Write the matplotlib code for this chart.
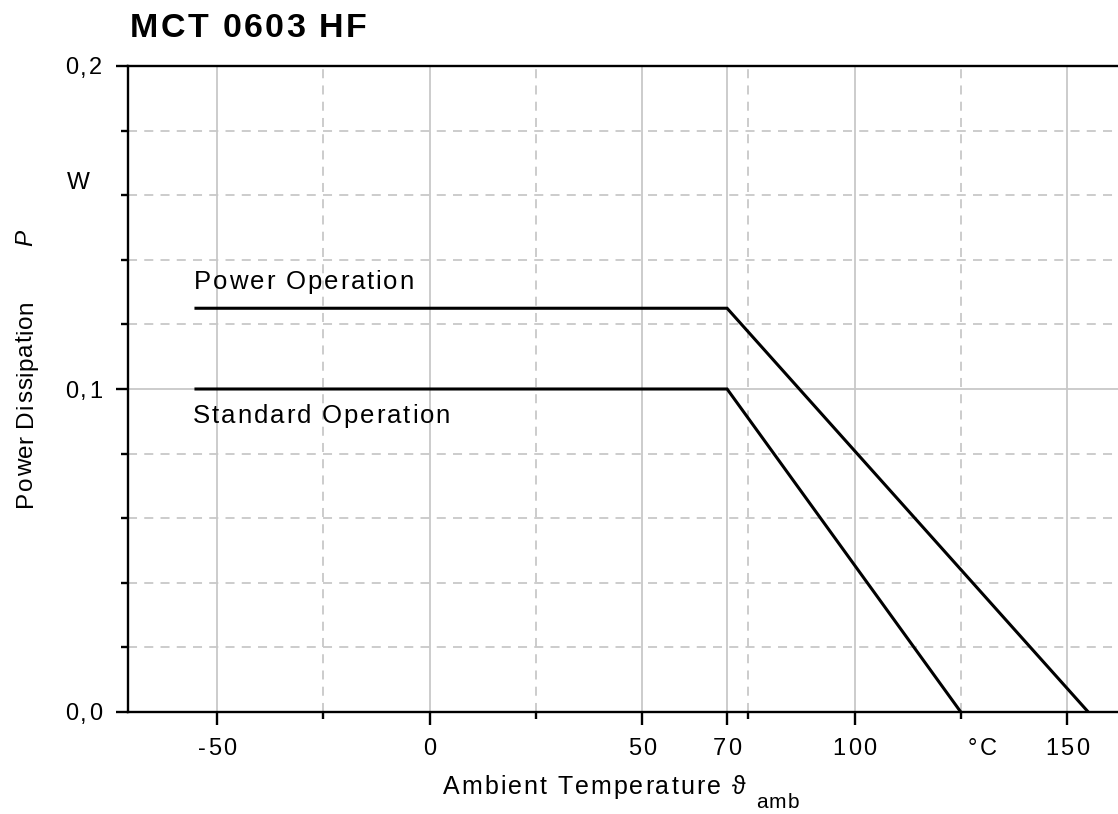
import matplotlib
matplotlib.use("Agg")
import matplotlib.pyplot as plt
import matplotlib.transforms as mtransforms
from matplotlib.font_manager import FontProperties
from matplotlib.ticker import FixedLocator, NullFormatter

FAMILY = ['Liberation Sans', 'DejaVu Sans']
plt.rcParams['font.family'] = FAMILY

# ---- data ----
power_temp = [-55, 70, 155]
power_val = [0.125, 0.125, 0.0]
std_temp = [-55, 70, 125]
std_val = [0.1, 0.1, 0.0]

x_major = [-50, 0, 50, 70, 100, 150]
x_major_labels = ["-50", "0", "50", "70", "100", "150"]
x_minor = [-25, 25, 75, 125]
x_unit_pos = 130
x_unit_label = "°C"
y_major = [0.0, 0.1, 0.2]
y_major_labels = ["0,0", "0,1", "0,2"]
y_minor = [0.02, 0.04, 0.06, 0.08, 0.12, 0.14, 0.16, 0.18]

W, H = 1118, 814
fig = plt.figure(figsize=(W / 100, H / 100), dpi=100)
left_px, right_px, top_px, bot_px = 128, 1118, 66, 712
ax = fig.add_axes([left_px / W, 1 - bot_px / H, (right_px - left_px) / W, (bot_px - top_px) / H])

ax.set_xlim(-71, 162)
ax.set_ylim(0, 0.2)

ax.plot(power_temp, power_val, color='black', lw=2.2, solid_joinstyle='miter', zorder=3)
ax.plot(std_temp, std_val, color='black', lw=2.2, solid_joinstyle='miter', zorder=3)

ax.xaxis.set_major_locator(FixedLocator(x_major))
ax.xaxis.set_minor_locator(FixedLocator(x_minor))
ax.yaxis.set_major_locator(FixedLocator(y_major))
ax.yaxis.set_minor_locator(FixedLocator(y_minor))
ax.xaxis.set_major_formatter(NullFormatter())
ax.yaxis.set_major_formatter(NullFormatter())

gridc = '#c8c8c8'
ax.grid(which='major', color=gridc, lw=1.3, ls='-')
ax.grid(which='minor', color=gridc, lw=1.3, ls=(0, (5, 4)))
ax.set_axisbelow(True)

for s in ['left', 'bottom', 'top']:
    ax.spines[s].set_linewidth(1.7)
ax.spines['right'].set_visible(False)

ax.tick_params(which='major', direction='out', length=9, width=1.7)
ax.tick_params(which='minor', direction='out', length=5, width=1.7)

renderer = fig.canvas.get_renderer()
ident = mtransforms.IdentityTransform()


def advances(s, prop):
    base, _, _ = renderer.get_text_width_height_descent("||", prop, ismath=False)
    out = []
    for c in s:
        w, _, _ = renderer.get_text_width_height_descent("|" + c + "|", prop, ismath=False)
        out.append(w - base)
    return out


def tracked(x_px, y_base_px, s, size, track, ha='left', rotation=0, weight='normal', style='normal'):
    """Draw text with letter spacing; coordinates in pixels from top-left."""
    prop = FontProperties(family=FAMILY, size=size, weight=weight, style=style)
    adv = advances(s, prop)
    total = sum(adv) + track * (len(s) - 1)
    if ha == 'center':
        start = -total / 2
    elif ha == 'right':
        start = -total
    else:
        start = 0
    pos = start
    for c, a in zip(s, adv):
        if rotation == 0:
            px, py = x_px + pos, H - y_base_px
        else:
            px, py = x_px, H - y_base_px + pos
        fig.text(px, py, c, transform=ident, fontproperties=prop, ha='left', va='baseline',
                 rotation=rotation, rotation_mode='anchor')
        pos += a + track


# X tick labels
for xv, lab in zip(x_major + [x_unit_pos], x_major_labels + [x_unit_label]):
    xp = ax.transData.transform((xv, 0))[0]
    tracked(xp, 755, lab, 17, 2.3, ha='center')

# Y tick labels
for yv, lab in zip(y_major, y_major_labels):
    yp = H - ax.transData.transform((0, yv))[1]
    tracked(102, yp + 8.5, lab, 17, 2.3, ha='right')

# Annotations
tracked(194, 289, "Power Operation", 18.5, 1.9)
tracked(193, 423, "Standard Operation", 18.5, 1.9)

# Title
tracked(130, 37, "MCT 0603 HF", 24.5, 2.3, weight='bold')

# Y-axis labels
tracked(32, 507, "Power Dissipation", 17.5, 0.8, rotation=90)
tracked(32, 246, "P", 17.5, 0, rotation=90, style='italic')
tracked(67, 189, "W", 17.5, 0)

# X-axis label
tracked(443, 794, "Ambient Temperature ϑ", 18, 2.0)
tracked(756, 808, "amb", 15, 1.3)

fig.savefig("out.png", dpi=100)
